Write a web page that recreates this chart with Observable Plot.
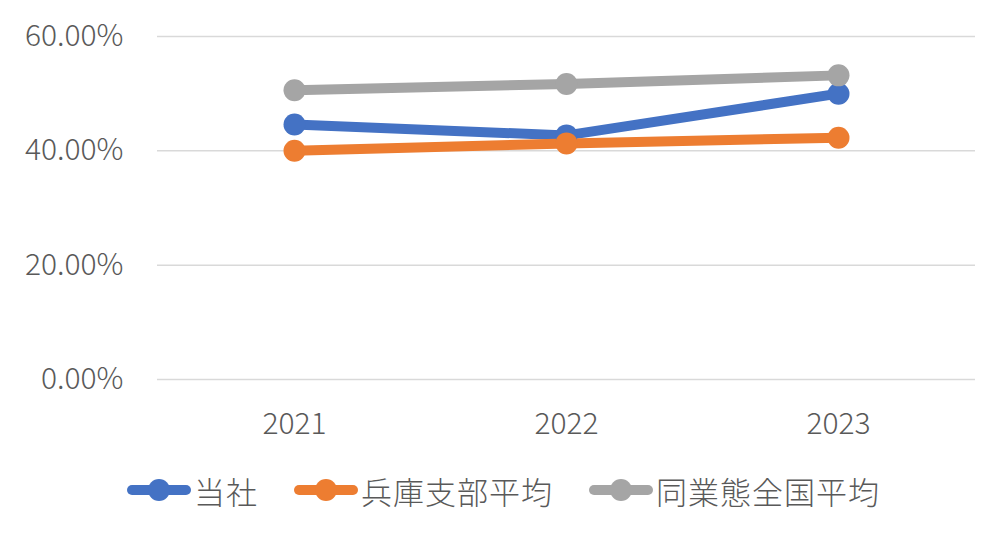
<!DOCTYPE html>
<html>
<head>
<meta charset="utf-8">
<script src="https://cdn.jsdelivr.net/npm/d3@7"></script>
<script src="https://cdn.jsdelivr.net/npm/@observablehq/plot@0.6"></script>
<style>
  body { margin: 0; background: #fff; font-family: "Noto Sans CJK JP", "Noto Sans", sans-serif; }
  #legend { display: flex; justify-content: center; align-items: center; height: 82px; gap: 36px; color: #595959; font-size: 31px; font-weight: 300; padding-bottom: 12px; box-sizing: border-box; }
  #legend .item { display: flex; align-items: center; gap: 3px; }
  #legend span { letter-spacing: 1px; }
</style>
</head>
<body>
<div id="chart"></div>
<div id="legend"></div>
<script>
const years = ["2021", "2022", "2023"];
const seriesNames = ["当社", "兵庫支部平均", "同業態全国平均"];
const seriesColors = ["#4472C4", "#ED7D31", "#A5A5A5"];
const valuesTousha = [0.446, 0.427, 0.500];
const valuesHyogo = [0.400, 0.413, 0.423];
const valuesZenkoku = [0.506, 0.517, 0.532];
const yTicks = [0, 0.2, 0.4, 0.6];

const allValues = [valuesTousha, valuesHyogo, valuesZenkoku];
const data = [];
seriesNames.forEach((name, i) => {
  years.forEach((y, j) => data.push({ series: name, year: y, value: allValues[i][j] }));
});

const chart = Plot.plot({
  width: 1007,
  height: 455,
  marginTop: 36,
  marginBottom: 76,
  marginLeft: 157,
  marginRight: 32,
  style: { fontFamily: "'Noto Sans CJK JP', 'Noto Sans', sans-serif", fontSize: "30px", fontWeight: 300, color: "#595959", background: "#fff" },
  x: { type: "point", domain: years, padding: 0.5, label: null },
  y: { domain: [0, 0.6], label: null },
  color: { domain: seriesNames, range: seriesColors },
  marks: [
    Plot.ruleY(yTicks, { stroke: "#D9D9D9", strokeWidth: 1.5 }),
    Plot.axisY(yTicks, { tickSize: 0, tickPadding: 34, tickFormat: d => (d * 100).toFixed(2) + "%", fill: "#595959", label: null }),
    Plot.axisX({ tickSize: 0, tickPadding: 33, fill: "#595959", label: null }),
    Plot.line(data, { x: "year", y: "value", z: "series", stroke: "series", strokeWidth: 10, strokeLinecap: "round", strokeLinejoin: "round" }),
    Plot.dot(data, { x: "year", y: "value", fill: "series", r: 11 })
  ]
});
document.getElementById("chart").appendChild(chart);

const legend = document.getElementById("legend");
seriesNames.forEach((name, i) => {
  const item = document.createElement("div");
  item.className = "item";
  item.innerHTML = `<svg width="64" height="26"><line x1="5" y1="13" x2="59" y2="13" stroke="${seriesColors[i]}" stroke-width="10" stroke-linecap="round"/><circle cx="32" cy="13" r="11" fill="${seriesColors[i]}"/></svg><span>${name}</span>`;
  legend.appendChild(item);
});
</script>
</body>
</html>
